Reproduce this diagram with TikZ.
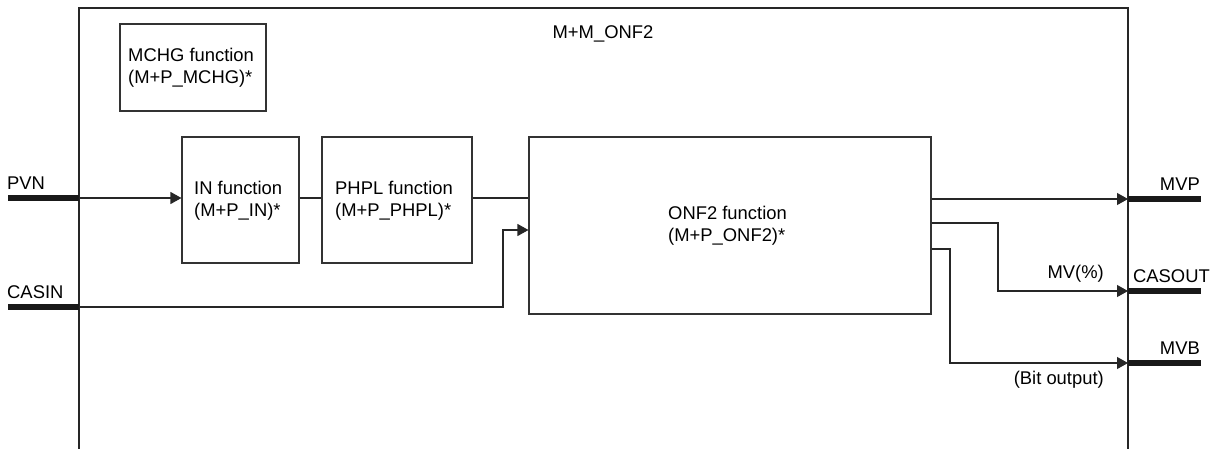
\documentclass[tikz,border=0pt]{standalone}
\usepackage{fontspec}
\setmainfont{Liberation Sans}
\usetikzlibrary{arrows.meta}
\begin{document}
\begin{tikzpicture}[x=1pt,y=-1pt,
  fbox/.style={draw=black!80,line width=1.1pt,inner sep=0pt},
  conn/.style={line width=1.1pt,draw=black!85},
  arr/.style={conn,-{Triangle[length=11pt,width=12pt]}},
  bar/.style={line width=6pt,draw=black!90},
  lbl/.style={inner sep=0pt,font=\fontsize{18.4}{22}\selectfont},
  txt/.style={align=left,font=\fontsize{18.4}{22}\selectfont,inner sep=0pt}]
\useasboundingbox (0,0) rectangle (1216,448);
% outer block
\draw[conn] (79,449) -- (79,8) -- (1128,8) -- (1128,449);
\node[lbl,anchor=base] (title) at (603,38) {M+M\_ONF2};
% function boxes
\node[fbox,minimum width=146pt,minimum height=87pt] (mchg) at (193,67.5) {};
\node[txt,anchor=west] at (128,67.5) {MCHG function\\(M+P\_MCHG)*};
\node[fbox,minimum width=117pt,minimum height=126pt] (in) at (240.5,200) {};
\node[txt,anchor=west] at (194,201) {IN function\\(M+P\_IN)*};
\node[fbox,minimum width=150pt,minimum height=126pt] (phpl) at (397,200) {};
\node[txt,anchor=west] at (335,201) {PHPL function\\(M+P\_PHPL)*};
\node[fbox,minimum width=402pt,minimum height=177pt] (onf) at (730,225.5) {};
\node[txt,anchor=west] at (668,226) {ONF2 function\\(M+P\_ONF2)*};
% input ports
\coordinate (pvnL) at (8,198);
\coordinate (pvnR) at (79,198);
\coordinate (casL) at (8,307);
\coordinate (casR) at (79,307);
\draw[bar] (pvnL) -- (pvnR);
\draw[bar] (casL) -- (casR);
\node[lbl,anchor=south west] (pvn) at (7,190) {PVN};
\node[lbl,anchor=south west] (casin) at (7,299) {CASIN};
% output ports
\coordinate (mvpL) at (1128,199);
\coordinate (mvpR) at (1201,199);
\coordinate (cooL) at (1128,291);
\coordinate (cooR) at (1201,291);
\coordinate (mvbL) at (1128,363);
\coordinate (mvbR) at (1201,363);
\draw[bar] (mvpL) -- (mvpR);
\draw[bar] (cooL) -- (cooR);
\draw[bar] (mvbL) -- (mvbR);
\node[lbl,anchor=south east] (mvp) at (1200,191) {MVP};
\node[lbl,anchor=south east] (casout) at (1210,283) {CASOUT};
\node[lbl,anchor=south east] (mvb) at (1200,355) {MVB};
\node[lbl,anchor=south east] (mvpct) at (1104,283) {MV(\%)};
\node[lbl,anchor=north east] (bitout) at (1104,371) {(Bit output)};
% connectors
\draw[arr] (pvnR) -- (in.west |- pvnR);
\draw[conn] (in.east |- 0,198) -- (phpl.west |- 0,198);
\draw[conn] (phpl.east |- 0,198) -- (onf.west |- 0,198);
\draw[arr] (casR) -- (503,307) -- (503,230) -- (onf.west |- 0,230);
\draw[arr] (onf.east |- mvpL) -- (mvpL);
\draw[arr] (onf.east |- 0,223) -- (998,223) -- (998,291) -- (cooL);
\draw[arr] (onf.east |- 0,249) -- (950,249) -- (950,363) -- (mvbL);
\end{tikzpicture}
\end{document}
